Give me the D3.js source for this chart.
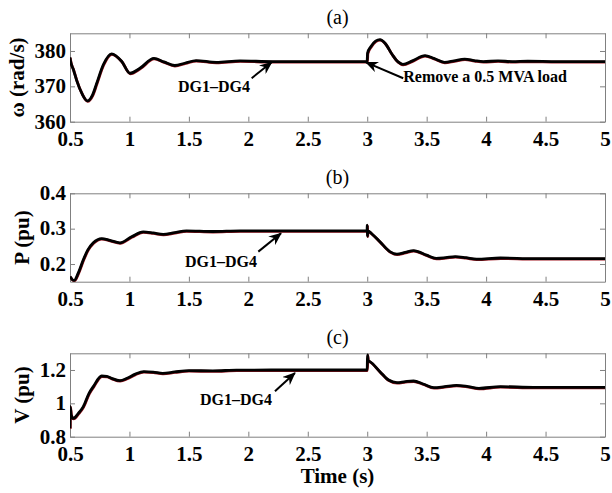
<!DOCTYPE html>
<html>
<head>
<meta charset="utf-8">
<script src="https://cdn.jsdelivr.net/npm/d3@7"></script>
<style>
  html, body { margin: 0; padding: 0; background: #fff; }
  svg { display: block; }
  text { font-family: "Liberation Serif", "Times New Roman", serif; fill: #000; }
</style>
</head>
<body>
<svg id="chart" width="612" height="493"></svg>
<script>
// ---- Data -------------------------------------------------------------
const xTicks = [0.5, 1, 1.5, 2, 2.5, 3, 3.5, 4, 4.5, 5];
const xTickLabels = ["0.5", "1", "1.5", "2", "2.5", "3", "3.5", "4", "4.5", "5"];

// (a) angular frequency, rad/s
const timeOmega = [0.5, 0.502, 0.53, 0.556, 0.6, 0.646, 0.69, 0.724, 0.78, 0.85, 0.934, 1.004, 1.088, 1.206, 1.29, 1.38, 1.47, 1.56, 1.73, 1.93, 2.2, 2.6, 2.999,
  3.003, 3.03, 3.07, 3.107, 3.15, 3.21, 3.26, 3.3, 3.38, 3.486, 3.56, 3.65, 3.73, 3.82, 3.9, 3.976, 4.1, 4.22, 4.35, 4.6, 5.0];
const omega = [378.2, 377.6, 374.6, 371.7, 368.0, 365.9, 367.6, 370.8, 376.1, 379.2, 377.1, 373.7, 375.1, 377.9, 376.9, 375.9, 376.6, 377.3, 376.8, 377.2, 377.0, 377.0, 377.0,
  379.4, 381.2, 382.8, 383.2, 382.2, 379.0, 376.9, 376.2, 377.2, 378.7, 377.9, 376.8, 377.2, 377.7, 377.3, 377.0, 377.2, 377.0, 377.1, 377.0, 377.0];
const omegaTicks = [360, 370, 380];

// (b) active power, pu
const timeP = [0.5, 0.534, 0.57, 0.612, 0.65, 0.696, 0.766, 0.836, 0.92, 1.018, 1.116, 1.2, 1.284, 1.38, 1.48, 1.7, 1.93, 2.3, 2.999,
  3.0, 3.002, 3.004, 3.04, 3.107, 3.19, 3.25, 3.32, 3.39, 3.5, 3.58, 3.66, 3.74, 3.83, 3.92, 4.12, 4.4, 5.0];
const power = [0.165, 0.153, 0.175, 0.212, 0.24, 0.26, 0.272, 0.267, 0.26, 0.277, 0.291, 0.288, 0.284, 0.289, 0.294, 0.292, 0.294, 0.294, 0.294,
  0.31, 0.279, 0.294, 0.285, 0.263, 0.235, 0.228, 0.233, 0.238, 0.225, 0.216, 0.218, 0.221, 0.218, 0.214, 0.217, 0.215, 0.215];
const powerTicks = [0.2, 0.3, 0.4];

// (c) voltage, pu
const timeV = [0.5, 0.502, 0.51, 0.528, 0.57, 0.612, 0.66, 0.696, 0.766, 0.81, 0.85, 0.92, 0.98, 1.05, 1.12, 1.2, 1.28, 1.38, 1.5, 1.7, 1.9, 2.2, 2.999,
  3.0, 3.002, 3.008, 3.023, 3.107, 3.18, 3.25, 3.32, 3.39, 3.47, 3.56, 3.65, 3.75, 3.85, 3.94, 4.12, 4.4, 5.0];
const voltage = [0.85, 0.98, 0.93, 0.91, 0.94, 0.98, 1.06, 1.10, 1.164, 1.162, 1.15, 1.136, 1.15, 1.175, 1.19, 1.187, 1.18, 1.188, 1.196, 1.195, 1.199, 1.2, 1.2,
  1.2, 1.29, 1.255, 1.25, 1.19, 1.14, 1.124, 1.13, 1.134, 1.116, 1.094, 1.1, 1.108, 1.1, 1.09, 1.1, 1.096, 1.096];
const voltageTicks = [0.8, 1, 1.2];

// ---- Panels -------------------------------------------------------------
const panels = [
  { title: "(a)", ylabel: "ω (rad/s)", t: timeOmega, v: omega, domain: [360, 385], ticks: omegaTicks, fmt: d => String(d),
    top: 33.3, bottom: 121.7, ylabelX: 16.5,
    notes: [
      { text: "DG1–DG4", tx: 1.408, ty: 368.5, from: [2.028, 372.3], to: [2.196, 376.8] },
      { text: "Remove a 0.5 MVA load", tx: 3.303, ty: 371.3, from: [3.303, 372.3], to: [2.99, 376.8] }
    ] },
  { title: "(b)", ylabel: "P (pu)", t: timeP, v: power, domain: [0.15, 0.4], ticks: powerTicks, fmt: d => d.toFixed(1),
    top: 193.3, bottom: 281.7, ylabelX: 22,
    notes: [
      { text: "DG1–DG4", tx: 1.467, ty: 0.192, from: [2.084, 0.235], to: [2.275, 0.287] }
    ] },
  { title: "(c)", ylabel: "V (pu)", t: timeV, v: voltage, domain: [0.8, 1.3], ticks: voltageTicks, fmt: d => String(d),
    top: 353.3, bottom: 436.7, ylabelX: 22,
    notes: [
      { text: "DG1–DG4", tx: 1.593, ty: 0.992, from: [2.224, 1.072], to: [2.392, 1.182] }
    ] }
];

const left = 70, right = 605;
const svg = d3.select("#chart");

// arrowhead used by the annotations
svg.append("defs").append("marker")
  .attr("id", "head")
  .attr("viewBox", "0 0 13 11")
  .attr("refX", 12).attr("refY", 5.5)
  .attr("markerWidth", 13).attr("markerHeight", 11)
  .attr("markerUnits", "userSpaceOnUse")
  .attr("orient", "auto")
  .append("path")
  .attr("d", "M0,0 L13,5.5 L0,11 L4,5.5 Z")
  .attr("fill", "#000");

const x = d3.scaleLinear().domain([0.5, 5]).range([left, right]);
const frameColor = "#808080";

panels.forEach(p => {
  const y = d3.scaleLinear().domain(p.domain).range([p.bottom, p.top]);
  const g = svg.append("g");

  // frame with inward ticks on all four sides
  const styleAxis = sel => {
    sel.select(".domain").attr("stroke", frameColor).attr("stroke-width", 1);
    sel.selectAll(".tick line").attr("stroke", frameColor).attr("stroke-width", 1);
  };

  const xb = g.append("g").attr("transform", `translate(0,${p.bottom})`)
    .call(d3.axisBottom(x).tickValues(xTicks).tickSize(-5).tickSizeOuter(0)
      .tickFormat((d, i) => xTickLabels[i]));
  styleAxis(xb);
  xb.selectAll(".tick text")
    .attr("y", 24).attr("dy", null)
    .style("font-family", "'Liberation Serif', serif")
    .style("font-size", "21px").style("font-weight", "bold").attr("fill", "#000");

  const xt = g.append("g").attr("transform", `translate(0,${p.top})`)
    .call(d3.axisTop(x).tickValues(xTicks).tickSize(-5).tickSizeOuter(0).tickFormat(""));
  styleAxis(xt);

  const yl = g.append("g").attr("transform", `translate(${left},0)`)
    .call(d3.axisLeft(y).tickValues(p.ticks).tickSize(-5).tickSizeOuter(0).tickFormat(p.fmt));
  styleAxis(yl);
  yl.selectAll(".tick text")
    .attr("x", -4).attr("dy", "0.3em")
    .style("font-family", "'Liberation Serif', serif")
    .style("font-size", "21px").style("font-weight", "bold").attr("fill", "#000");

  const yr = g.append("g").attr("transform", `translate(${right},0)`)
    .call(d3.axisRight(y).tickValues(p.ticks).tickSize(-5).tickSizeOuter(0).tickFormat(""));
  styleAxis(yr);

  // title above the panel
  g.append("text")
    .attr("x", (left + right) / 2).attr("y", p.top - 9)
    .attr("text-anchor", "middle")
    .style("font-size", "20px")
    .text(p.title);

  // y label
  g.append("text")
    .attr("transform", `translate(${p.ylabelX},${(p.top + p.bottom) / 2}) rotate(-90)`)
    .attr("text-anchor", "middle").attr("dy", "0.35em")
    .style("font-size", "21px").style("font-weight", "bold")
    .text(p.ylabel);

  // traces: red trace underneath, black on top
  const rows = p.t.map((t, i) => ({ t, v: p.v[i] }));
  const line = d3.line().x(d => x(d.t)).y(d => y(d.v)).curve(d3.curveMonotoneX);
  const clipId = "clip" + p.title.replace(/\W/g, "");
  g.append("clipPath").attr("id", clipId)
    .append("rect").attr("x", left).attr("y", p.top).attr("width", right - left).attr("height", p.bottom - p.top);
  const traces = g.append("g").attr("clip-path", `url(#${clipId})`);
  traces.append("path").datum(rows)
    .attr("d", line).attr("fill", "none")
    .attr("stroke", "#a01822").attr("stroke-width", 2.8)
    .attr("transform", "translate(0.3,0.5)");
  traces.append("path").datum(rows)
    .attr("d", line).attr("fill", "none")
    .attr("stroke", "#000").attr("stroke-width", 2.8)
    .attr("stroke-linejoin", "round");

  // annotations
  p.notes.forEach(n => {
    g.append("line")
      .attr("x1", x(n.from[0])).attr("y1", y(n.from[1]))
      .attr("x2", x(n.to[0])).attr("y2", y(n.to[1]))
      .attr("stroke", "#000").attr("stroke-width", 2)
      .attr("marker-end", "url(#head)");
    g.append("text")
      .attr("x", x(n.tx)).attr("y", y(n.ty))
      .style("font-size", "16px").style("font-weight", "bold")
      .text(n.text);
  });
});

// shared x label
svg.append("text")
  .attr("x", (left + right) / 2).attr("y", 483)
  .attr("text-anchor", "middle")
  .style("font-size", "21px").style("font-weight", "bold")
  .text("Time (s)");
</script>
</body>
</html>
